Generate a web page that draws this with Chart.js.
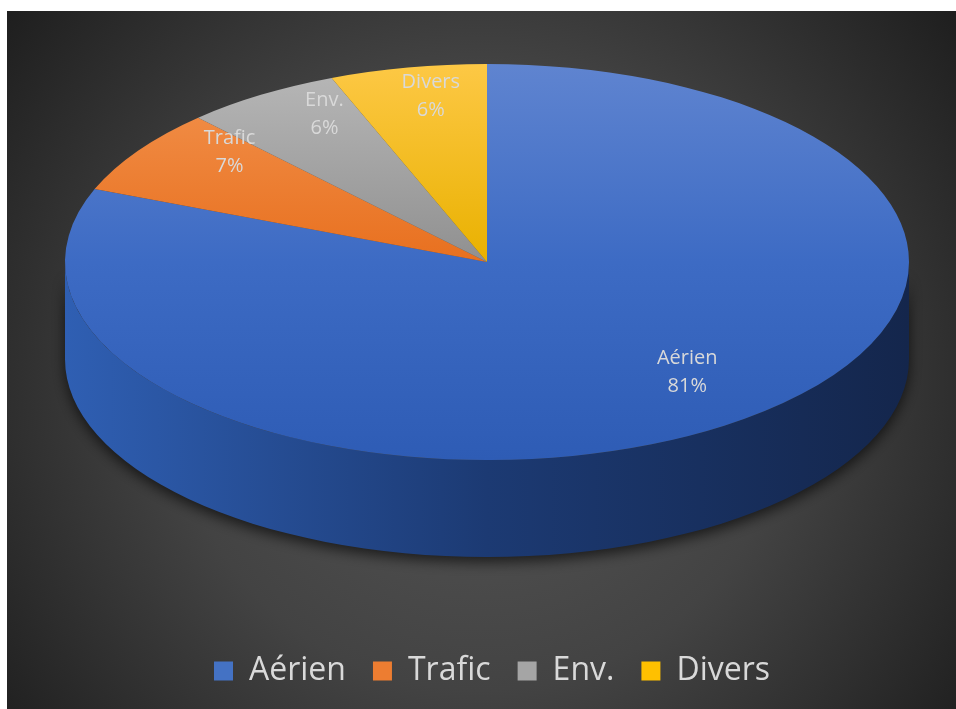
<!DOCTYPE html>
<html>
<head>
<meta charset="utf-8">
<script src="https://cdn.jsdelivr.net/npm/chart.js@4/dist/chart.umd.min.js"></script>
<style>
  html, body { margin: 0; padding: 0; background: #fff; }
  #wrap { width: 956px; height: 709px; }
</style>
</head>
<body>
<div id="wrap"><canvas id="pie"></canvas></div>
<script>
const labels = ['Aérien', 'Trafic', 'Env.', 'Divers'];
const values = [81, 7, 6, 6];
const sliceColors = ['#4472c4', '#ed7d31', '#a5a5a5', '#ffc000'];

// look of the tilted pie
const FONT = '"Open Sans", "Noto Sans", sans-serif';
const CX = 487, CY = 262, RX = 422, RY = 198, DEPTH = 97;
const topStops = [
  ['#5f84d0', '#3d6bc4', '#2e5cb5'],
  ['#f39450', '#e8701f', '#e06417'],
  ['#b8b8b8', '#909090', '#888888'],
  ['#fdc845', '#e9b100', '#e0a800']
];
const sideStops = [
  ['#2f5fb3', '#1c3a73', '#14264c'],
  ['#c8601c', '#a84f14', '#8a400f'],
  ['#8a8a8a', '#6e6e6e', '#5a5a5a'],
  ['#d9a300', '#b08400', '#8f6b00']
];

const total = values.reduce((a, b) => a + b, 0);

// background: white margin + dark radial gradient
const backdrop = {
  id: 'backdrop',
  beforeDraw(chart) {
    const ctx = chart.ctx;
    ctx.save();
    ctx.fillStyle = '#ffffff';
    ctx.fillRect(0, 0, chart.width, chart.height);
    const g = ctx.createRadialGradient(481, 380, 0, 481, 380, 620);
    g.addColorStop(0, '#575757');
    g.addColorStop(0.5, '#434343');
    g.addColorStop(1, '#1c1c1c');
    ctx.fillStyle = g;
    ctx.fillRect(7, 11, chart.width - 7, chart.height - 11);
    ctx.restore();
  }
};

// squash the pie into an ellipse and give it a side wall
const tilt = {
  id: 'tilt',
  beforeDatasetsDraw(chart) {
    const ctx = chart.ctx;
    const arcs = chart.getDatasetMeta(0).data;
    if (!arcs.length) return;
    const x = arcs[0].x, y = arcs[0].y, R = arcs[0].outerRadius;

    // side wall, only the front half is visible
    arcs.forEach((arc, i) => {
      const lo = Math.max(arc.startAngle, 0);
      const hi = Math.min(arc.endAngle, Math.PI);
      if (lo >= hi) return;
      const g = ctx.createLinearGradient(CX - RX, 0, CX + RX, 0);
      g.addColorStop(0, sideStops[i][0]);
      g.addColorStop(0.5, sideStops[i][1]);
      g.addColorStop(1, sideStops[i][2]);
      ctx.save();
      ctx.beginPath();
      ctx.ellipse(CX, CY, RX, RY, 0, lo, hi);
      ctx.ellipse(CX, CY + DEPTH, RX, RY, 0, hi, lo, true);
      ctx.closePath();
      ctx.shadowColor = 'rgba(0,0,0,0.65)';
      ctx.shadowBlur = 14;
      ctx.shadowOffsetY = 5;
      ctx.fillStyle = g;
      ctx.fill();
      ctx.restore();
    });

    // top face gradients in chart space
    arcs.forEach((arc, i) => {
      const g = ctx.createLinearGradient(0, y - R, 0, y + R);
      g.addColorStop(0, topStops[i][0]);
      g.addColorStop(0.5, topStops[i][1]);
      g.addColorStop(1, topStops[i][2]);
      arc.options = Object.assign({}, arc.options, { backgroundColor: g });
    });

    ctx.save();
    ctx.translate(CX, CY);
    ctx.scale(RX / R, RY / R);
    ctx.translate(-x, -y);
  },
  afterDatasetsDraw(chart) {
    const ctx = chart.ctx;
    ctx.restore();

    // labels placed with a little perspective, like the 3D original
    const arcs = chart.getDatasetMeta(0).data;
    const pivotY = CY - 28, persp = 0.12;
    ctx.save();
    ctx.fillStyle = '#d9d9d9';
    ctx.font = '20px ' + FONT;
    ctx.textAlign = 'center';
    ctx.textBaseline = 'middle';
    arcs.forEach((arc, i) => {
      const mid = (arc.startAngle + arc.endAngle) / 2;
      const u = 0.8 * Math.cos(mid), v = 0.8 * Math.sin(mid);
      const d = 1 - persp * v;
      const lx = CX + (RX - 12) * u / d;
      const ly = pivotY + (RY - 6) * v / d;
      ctx.fillText(labels[i], lx, ly - 14);
      ctx.fillText(Math.round(values[i] / total * 100) + '%', lx, ly + 14);
    });
    ctx.restore();
  }
};

new Chart(document.getElementById('pie'), {
  type: 'pie',
  data: {
    labels: labels,
    datasets: [{
      data: values,
      backgroundColor: sliceColors,
      borderWidth: 0,
      clip: false
    }]
  },
  options: {
    responsive: true,
    maintainAspectRatio: false,
    animation: false,
    events: [],
    rotation: 0,
    layout: { padding: { bottom: 12, left: 28 } },
    plugins: {
      legend: {
        position: 'bottom',
        labels: {
          color: '#d9d9d9',
          font: { family: FONT, size: 32 },
          boxWidth: 19,
          boxHeight: 19,
          padding: 27
        }
      },
      tooltip: { enabled: false }
    }
  },
  plugins: [backdrop, tilt]
});
</script>
</body>
</html>
